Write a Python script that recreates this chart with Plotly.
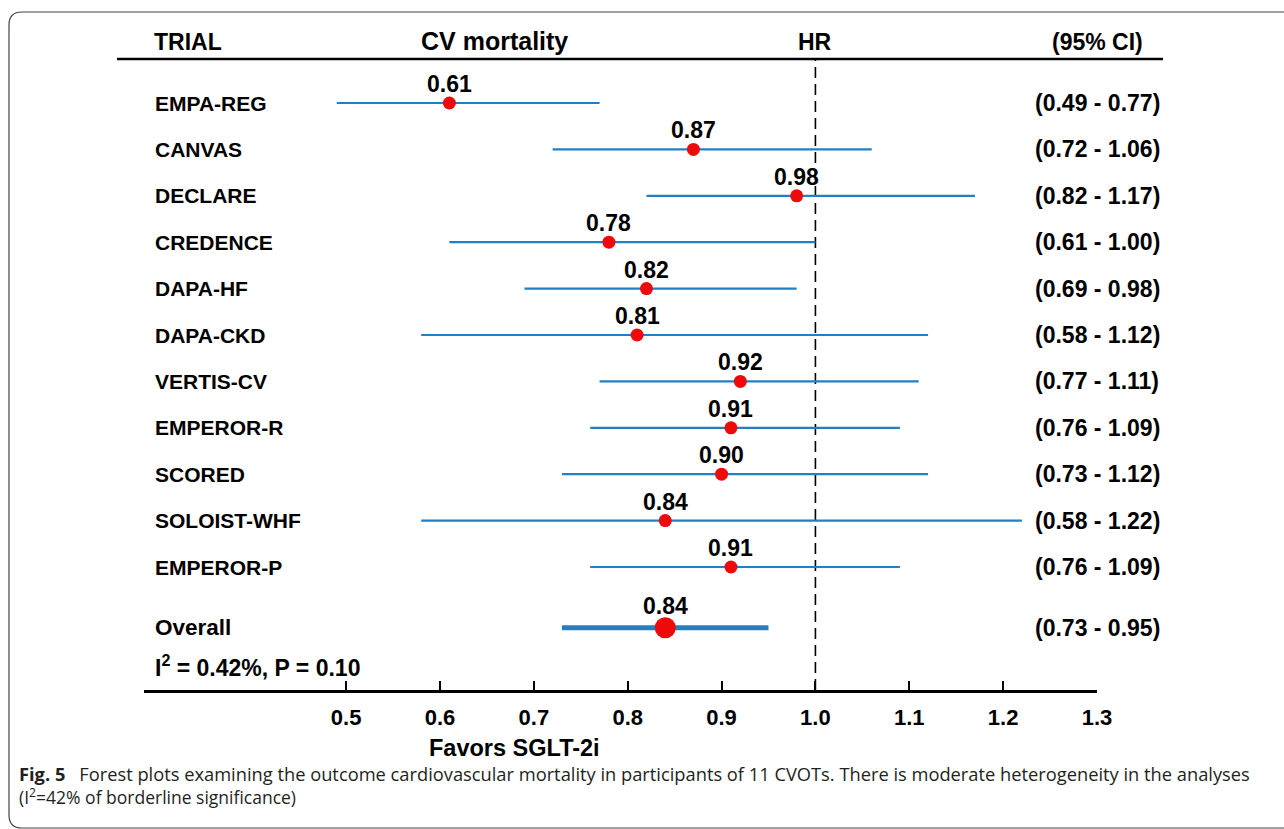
import plotly.graph_objects as go

# ---------------- data ----------------
trials = ["EMPA-REG", "CANVAS", "DECLARE", "CREDENCE", "DAPA-HF", "DAPA-CKD",
          "VERTIS-CV", "EMPEROR-R", "SCORED", "SOLOIST-WHF", "EMPEROR-P"]
hr = [0.61, 0.87, 0.98, 0.78, 0.82, 0.81, 0.92, 0.91, 0.90, 0.84, 0.91]
ci_lo = [0.49, 0.72, 0.82, 0.61, 0.69, 0.58, 0.77, 0.76, 0.73, 0.58, 0.76]
ci_hi = [0.77, 1.06, 1.17, 1.00, 0.98, 1.12, 1.11, 1.09, 1.12, 1.22, 1.09]
overall_label = "Overall"
overall_hr = 0.84
overall_lo = 0.73
overall_hi = 0.95
heterogeneity = "I<sup>2</sup> = 0.42%, P = 0.10"
tick_vals = [0.5, 0.6, 0.7, 0.8, 0.9, 1.0, 1.1, 1.2, 1.3]
tick_text = ["0.5", "0.6", "0.7", "0.8", "0.9", "1.0", "1.1", "1.2", "1.3"]
caption1 = ("<b>Fig. 5</b>\u2002 Forest plots examining the outcome cardiovascular mortality in "
            "participants of 11 CVOTs. There is moderate heterogeneity in the analyses")
caption2 = "(I<sup>2</sup>=42% of borderline significance)"

# ---------------- layout geometry ----------------
W, H = 1284, 829
ML, MR, MT, MB = 144, 187, 60, 139
PW, PH = W - ML - MR, H - MT - MB

def px(x):
    return (x - ML) / PW

def py(y):
    return 1 - (y - MT) / PH

ROW0, ROWSTEP = 103, 46.4
y_top = (MT - ROW0) / ROWSTEP
y_bot = (H - MB - ROW0) / ROWSTEP

rows = list(range(len(trials)))
overall_row = len(trials) + 0.31

BLUE = "#1f80c6"
RED = "#ee0a0a"
FONT = "Liberation Sans"

fig = go.Figure()

fig.add_trace(go.Scatter(
    x=hr, y=rows, mode="markers",
    marker=dict(color=RED, size=13, line=dict(width=0)),
    error_x=dict(type="data", symmetric=False,
                 array=[h - m for h, m in zip(ci_hi, hr)],
                 arrayminus=[m - l for m, l in zip(hr, ci_lo)],
                 color=BLUE, thickness=2.2, width=0),
    showlegend=False, hoverinfo="skip"))

fig.add_trace(go.Scatter(
    x=[overall_hr], y=[overall_row], mode="markers",
    marker=dict(color=RED, size=21, line=dict(width=0)),
    error_x=dict(type="data", symmetric=False,
                 array=[overall_hi - overall_hr],
                 arrayminus=[overall_hr - overall_lo],
                 color=BLUE, thickness=5, width=0),
    showlegend=False, hoverinfo="skip"))

def f(size):
    return dict(family=FONT, size=size, color="black")

annotations = [
    dict(x=px(152), y=py(42), xref="paper", yref="paper", text="<b>TRIAL</b>",
         showarrow=False, xanchor="left", yanchor="middle", font=f(23)),
    dict(x=px(494), y=py(41), xref="paper", yref="paper", text="<b>CV mortality</b>",
         showarrow=False, xanchor="center", yanchor="middle", font=f(25)),
    dict(x=1.0, y=py(42), xref="x", yref="paper", text="<b>HR</b>",
         showarrow=False, xanchor="center", yanchor="middle", font=f(23)),
    dict(x=px(1097), y=py(42), xref="paper", yref="paper", text="<b>(95% CI)</b>",
         showarrow=False, xanchor="center", yanchor="middle", font=f(23)),
]

for i, (t, h, lo, hi) in enumerate(zip(trials, hr, ci_lo, ci_hi)):
    annotations.append(dict(x=px(153), y=rows[i], xref="paper", yref="y",
                            text=f"<b>{t}</b>", showarrow=False, xanchor="left",
                            yanchor="middle", font=f(21)))
    annotations.append(dict(x=h, y=rows[i], xref="x", yref="y", text=f"<b>{h:.2f}</b>",
                            showarrow=False, xanchor="center", yanchor="middle",
                            yshift=19, font=f(23)))
    annotations.append(dict(x=px(1097), y=rows[i], xref="paper", yref="y",
                            text=f"<b>({lo:.2f} - {hi:.2f})</b>", showarrow=False,
                            xanchor="center", yanchor="middle", font=f(23)))

annotations += [
    dict(x=px(153), y=overall_row, xref="paper", yref="y", text=f"<b>{overall_label}</b>",
         showarrow=False, xanchor="left", yanchor="middle", font=f(22.5)),
    dict(x=overall_hr, y=overall_row, xref="x", yref="y", text=f"<b>{overall_hr:.2f}</b>",
         showarrow=False, xanchor="center", yanchor="middle", yshift=22, font=f(23)),
    dict(x=px(1097), y=overall_row, xref="paper", yref="y",
         text=f"<b>({overall_lo:.2f} - {overall_hi:.2f})</b>", showarrow=False,
         xanchor="center", yanchor="middle", font=f(23)),
    dict(x=px(153), y=py(666), xref="paper", yref="paper", text=f"<b>{heterogeneity}</b>",
         showarrow=False, xanchor="left", yanchor="middle", font=f(23)),
    dict(x=px(514), y=py(748), xref="paper", yref="paper", text="<b>Favors SGLT-2i</b>",
         showarrow=False, xanchor="center", yanchor="middle", font=f(23.5)),
    dict(x=px(17), y=py(773), xref="paper", yref="paper", text=caption1,
         showarrow=False, xanchor="left", yanchor="middle",
         font=dict(family="Open Sans", size=18.3, color="#231f20")),
    dict(x=px(17), y=py(796), xref="paper", yref="paper", text=caption2,
         showarrow=False, xanchor="left", yanchor="middle",
         font=dict(family="Open Sans", size=17.5, color="#231f20")),
]

def P(x, y):
    return f"{px(x):.5f},{py(y):.5f}"

frame = (f"M {P(1300, 12)} L {P(22, 12)} Q {P(9, 12)} {P(9, 25)} "
         f"L {P(9, 815)} Q {P(9, 828)} {P(22, 828)} L {P(1300, 828)}")

shapes = [
    dict(type="path", path=frame, xref="paper", yref="paper",
         line=dict(color="#444444", width=1.2), layer="above"),
    dict(type="line", x0=px(117), x1=px(1163), y0=py(59), y1=py(59),
         xref="paper", yref="paper", line=dict(color="black", width=2.5)),
    dict(type="line", x0=1.0, x1=1.0, y0=0, y1=1, xref="x", yref="paper",
         line=dict(color="black", width=1.6, dash="11px,6px"), layer="below"),
]

fig.update_layout(
    width=W, height=H,
    margin=dict(l=ML, r=MR, t=MT, b=MB, pad=0),
    paper_bgcolor="white", plot_bgcolor="white",
    annotations=annotations, shapes=shapes,
    xaxis=dict(range=[1 - (815 - ML) / 938, 1.3], tickvals=tick_vals, ticktext=tick_text,
               showline=True, linecolor="black", linewidth=2.5,
               ticks="inside", ticklen=9, tickwidth=2, tickcolor="black",
               ticklabelstandoff=6,
               tickfont=dict(family=FONT, size=22, color="black", weight="bold"),
               showgrid=False, zeroline=False, fixedrange=True),
    yaxis=dict(range=[y_bot, y_top], visible=False, showgrid=False, zeroline=False,
               fixedrange=True),
)

fig.write_html("out.html", config=dict(displayModeBar=False, staticPlot=True),
               post_script="document.body.style.margin='0';document.body.style.overflow='hidden';")
